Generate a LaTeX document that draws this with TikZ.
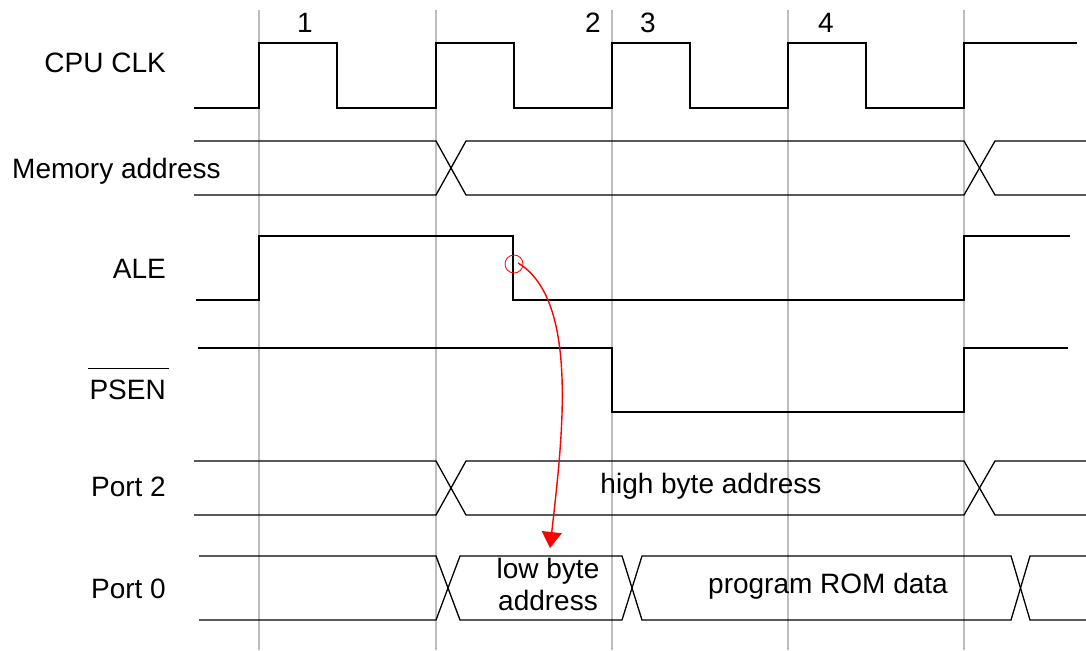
\documentclass[tikz,border=0pt]{standalone}
\usepackage{fontspec}
\setmainfont{Liberation Sans}
\usetikzlibrary{arrows.meta}
\definecolor{gridgray}{HTML}{BDBDBD}

\begin{document}
\begin{tikzpicture}[x=1pt, y=-1pt, >=Stealth,
    every node/.style={font=\fontsize{28}{32}\selectfont, inner sep=0pt},
    wave/.style={line width=1.3pt, line join=miter},
    cyc/.style={gridgray, line width=1.2pt}]
    \useasboundingbox (0,0) rectangle (1086,650);

    % cycle boundaries
    \foreach \x in {259,436,612,788,964}
        \draw[cyc] (\x,10) -- (\x,650);

    % signal names
    \node[anchor=base east] (clk) at (166,73) {CPU CLK};
    \node[anchor=base west] (addr) at (12,178) {Memory address};
    \node[anchor=base east] (ale) at (166,278) {ALE};
    \node[anchor=base east] (psen) at (166,399) {PSEN};
    \draw[wave] ([yshift=11pt,xshift=-1pt]psen.north west) -- ([yshift=11pt,xshift=3pt]psen.north east);
    \node[anchor=base east] (ptwo) at (166,496) {Port 2};
    \node[anchor=base east] (pzero) at (166,598) {Port 0};

    % state numbers
    \node[anchor=base] (s1) at (305,33) {1};
    \node[anchor=base] (s2) at (593,33) {2};
    \node[anchor=base] (s3) at (648,33) {3};
    \node[anchor=base] (s4) at (826,33) {4};

    % CPU CLK
    \draw[wave] (194,108) -- (259,108) -- (259,43) -- (337,43) -- (337,108)
        -- (436,108) -- (436,43) -- (514,43) -- (514,108)
        -- (612,108) -- (612,43) -- (690,43) -- (690,108)
        -- (788,108) -- (788,43) -- (866,43) -- (866,108)
        -- (964,108) -- (964,43) -- (1077,43);

    % Memory address
    \draw[wave] (194,141) -- (436,141) -- (466,195) -- (964,195) -- (995,141) -- (1086,141);
    \draw[wave] (194,195) -- (436,195) -- (466,141) -- (964,141) -- (995,195) -- (1086,195);

    % ALE
    \draw[wave] (196,300) -- (259,300) -- (259,236) -- (513,236) -- (513,300)
        -- (964,300) -- (964,236) -- (1070,236);

    % PSEN
    \draw[wave] (198,348) -- (612,348) -- (612,412) -- (964,412) -- (964,348) -- (1068,348);

    % Port 2
    \draw[wave] (194,461) -- (436,461) -- (466,515) -- (964,515) -- (995,461) -- (1086,461);
    \draw[wave] (194,515) -- (436,515) -- (466,461) -- (964,461) -- (995,515) -- (1086,515);
    \node[anchor=base] (hiaddr) at (711,493) {high byte address};

    % Port 0
    \draw[wave] (199,556) -- (436,556) -- (460,620) -- (622,620) -- (642,556)
        -- (1011,556) -- (1030,620) -- (1086,620);
    \draw[wave] (199,620) -- (436,620) -- (460,556) -- (622,556) -- (642,620)
        -- (1011,620) -- (1030,556) -- (1086,556);
    \node[anchor=base, align=center] (loaddr) at (548,610) {low byte\\address};
    \node[anchor=base] (romdata) at (828,593) {program ROM data};

    % ALE falling edge latches the low byte
    \coordinate (fall) at (518,263);
    \coordinate (latch) at (550,548);
    \draw[red, line width=0.8pt] (514,264) circle (9pt);
    \draw[red, line width=1.4pt, -{Triangle[width=20pt,length=16pt]}]
        (fall) .. controls (580,300) and (562,440) .. (latch);
\end{tikzpicture}
\end{document}
